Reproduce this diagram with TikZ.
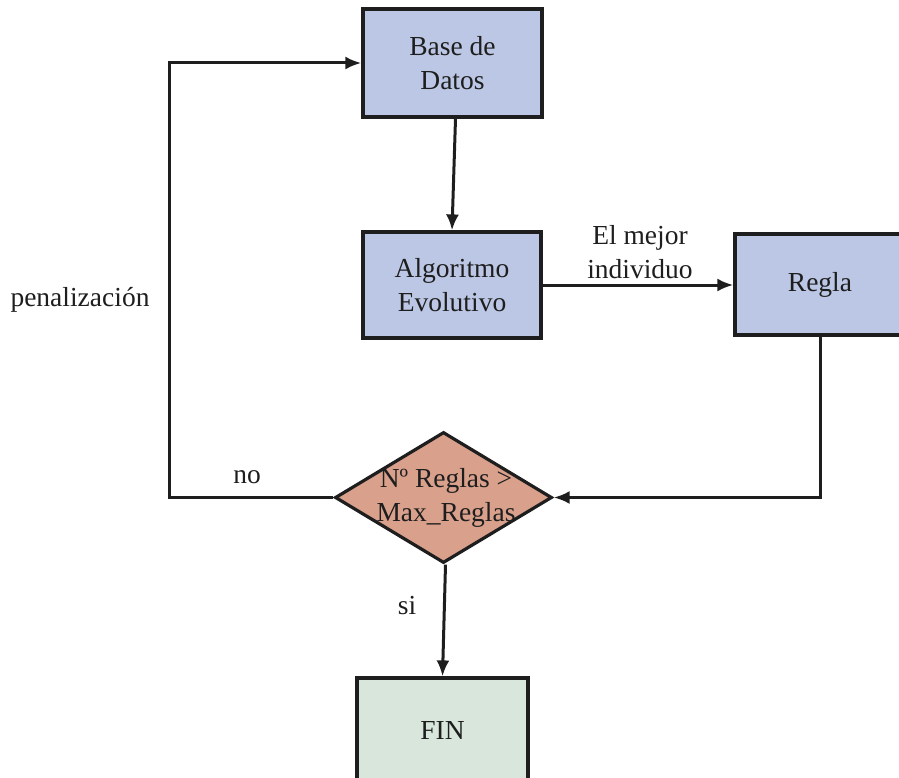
\documentclass[tikz,border=0pt]{standalone}
\usepackage{fontspec}
\setmainfont{Liberation Serif}
\usetikzlibrary{shapes.geometric,arrows.meta}
\definecolor{boxblue}{RGB}{187,199,228}
\definecolor{decision}{RGB}{217,160,140}
\definecolor{endgreen}{RGB}{216,230,220}
\definecolor{ink}{RGB}{30,30,30}
\begin{document}
\begin{tikzpicture}[x=1pt,y=-1pt,
  every node/.style={font=\fontsize{27.5}{33.5}\selectfont, text=ink},
  block/.style={draw=ink, line width=3.2pt, rectangle, inner sep=0pt, align=center},
  flow/.style={draw=ink, line width=3pt, -{Latex[length=16pt,width=13pt]}}]
\useasboundingbox (0,0) rectangle (899,778);
\begin{scope}
\clip (0,0) rectangle (899,778);
% process boxes
\node[block, fill=boxblue, minimum width=179pt, minimum height=108pt] (base) at (452.5,63) {Base de\\Datos};
\node[block, fill=boxblue, minimum width=178pt, minimum height=106pt] (algo) at (452,285) {Algoritmo\\Evolutivo};
\node[block, fill=boxblue, minimum width=170pt, minimum height=101pt] (regla) at (820,284.5) {Regla};
% decision
\node[diamond, draw=ink, line width=3.2pt, fill=decision, inner sep=0pt, minimum width=217pt, minimum height=131pt] (dec) at (443.5,497.5) {};
\node[align=center] (dectext) at (446,498) {Nº Reglas >\\Max\_Reglas};
% end box
\node[block, fill=endgreen, minimum width=171pt, minimum height=104pt] (fin) at (442.5,730) {FIN};
\end{scope}
% connectors
\draw[flow] ([xshift=3pt]base.south) -- (algo.north);
\draw[flow] (algo.east) -- (algo.east -| regla.west);
\draw[flow] (regla.south) |- (dec.east);
\coordinate (loopcorner) at (169,497.5);
\draw[flow] (dec.west) -- (loopcorner) |- (base.west);
\draw[flow] ([xshift=2pt]dec.south) -- (fin.north);
% labels
\node[align=center] (best) at (640,252) {El mejor\\individuo};
\node (pen) at (80,300) {penalización};
\node (no) at (247,477) {no};
\node (si) at (407,606) {si};
\end{tikzpicture}
\end{document}
